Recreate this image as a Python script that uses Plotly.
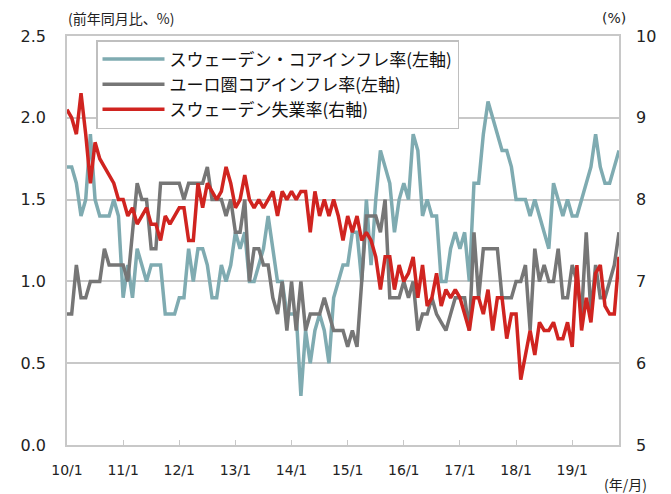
import plotly.graph_objects as go

# Monthly data, 2010/1 - 2019/11
tick_labels = ["10/1", "11/1", "12/1", "13/1", "14/1", "15/1", "16/1", "17/1", "18/1", "19/1"]

sweden_core = [
    1.7, 1.7, 1.6, 1.4, 1.5, 1.9, 1.5, 1.4, 1.4, 1.4, 1.5, 1.4,   # 2010
    0.9, 1.1, 0.9, 1.2, 1.1, 1.0, 1.1, 1.1, 1.1, 0.8, 0.8, 0.8,   # 2011
    0.9, 0.9, 1.2, 1.0, 1.2, 1.2, 1.1, 0.9, 0.9, 1.1, 1.0, 1.1,   # 2012
    1.3, 1.2, 1.3, 1.0, 1.0, 1.1, 1.2, 1.4, 1.2, 1.0, 1.0, 0.8,   # 2013
    0.8, 0.8, 0.3, 0.7, 0.5, 0.7, 0.8, 0.7, 0.5, 0.9, 1.0, 1.1,   # 2014
    1.1, 1.3, 1.3, 1.0, 1.5, 1.1, 1.5, 1.8, 1.7, 1.6, 1.3, 1.5,   # 2015
    1.6, 1.5, 1.9, 1.8, 1.4, 1.5, 1.4, 1.4, 1.0, 1.0, 1.2, 1.3,   # 2016
    1.2, 1.3, 1.0, 1.6, 1.6, 1.9, 2.1, 2.0, 1.9, 1.8, 1.8, 1.7,   # 2017
    1.5, 1.5, 1.5, 1.4, 1.5, 1.4, 1.3, 1.2, 1.6, 1.5, 1.4, 1.5,   # 2018
    1.4, 1.4, 1.5, 1.6, 1.7, 1.9, 1.7, 1.6, 1.6, 1.7, 1.8,        # 2019
]

euro_core = [
    0.8, 0.8, 1.1, 0.9, 0.9, 1.0, 1.0, 1.0, 1.2, 1.1, 1.1, 1.1,   # 2010
    1.1, 1.0, 1.3, 1.6, 1.5, 1.5, 1.2, 1.2, 1.6, 1.6, 1.6, 1.6,   # 2011
    1.6, 1.5, 1.6, 1.6, 1.6, 1.6, 1.7, 1.5, 1.5, 1.5, 1.4, 1.5,   # 2012
    1.3, 1.3, 1.5, 1.0, 1.2, 1.2, 1.1, 1.1, 0.9, 0.8, 1.0, 0.7,   # 2013
    1.0, 0.7, 1.0, 0.7, 0.8, 0.8, 0.8, 0.9, 0.8, 0.7, 0.7, 0.7,   # 2014
    0.6, 0.7, 0.6, 1.0, 1.4, 1.4, 1.4, 1.3, 1.5, 0.9, 0.9, 0.9,   # 2015
    1.0, 0.9, 1.0, 0.7, 0.8, 0.8, 0.9, 0.8, 0.75, 0.7, 0.8, 0.9,  # 2016
    0.9, 0.9, 0.7, 1.3, 0.9, 1.2, 1.2, 1.2, 1.2, 0.9, 0.9, 0.9,   # 2017
    1.0, 1.0, 1.1, 0.7, 1.2, 1.0, 1.1, 1.0, 1.0, 1.2, 0.9, 0.9,   # 2018
    1.1, 1.0, 0.8, 1.3, 0.8, 1.1, 0.9, 0.9, 1.0, 1.1, 1.3,        # 2019
]

sweden_unemp = [
    9.1, 9.0, 8.8, 9.3, 8.8, 8.2, 8.7, 8.5, 8.4, 8.3, 8.2, 8.0,   # 2010
    8.0, 7.8, 7.9, 7.7, 7.8, 7.9, 7.7, 7.7, 7.5, 7.8, 7.7, 7.8,   # 2011
    7.9, 7.9, 7.5, 7.5, 8.2, 7.9, 8.2, 8.1, 8.0, 8.1, 8.4, 8.2,   # 2012
    7.9, 8.0, 8.3, 8.0, 7.9, 8.0, 7.9, 8.0, 8.1, 7.8, 8.1, 8.0,   # 2013
    8.1, 8.0, 8.1, 8.1, 7.6, 8.1, 7.8, 8.0, 7.8, 8.0, 7.8, 7.5,   # 2014
    7.8, 7.6, 7.8, 7.5, 7.6, 7.5, 7.3, 6.9, 7.3, 7.3, 6.9, 7.2,   # 2015
    7.0, 7.1, 7.3, 6.8, 7.2, 6.7, 6.8, 7.1, 6.7, 6.9, 6.8, 6.9,   # 2016
    6.8, 6.6, 6.4, 6.8, 6.8, 6.6, 6.9, 6.4, 6.8, 6.8, 6.3, 6.6,   # 2017
    6.6, 5.8, 6.1, 6.4, 6.1, 6.5, 6.4, 6.4, 6.5, 6.3, 6.3, 6.5,   # 2018
    6.2, 7.2, 6.4, 6.8, 6.5, 7.1, 7.2, 6.7, 6.6, 6.6, 7.3,        # 2019
]

names = ["スウェーデン・コアインフレ率(左軸)", "ユーロ圏コアインフレ率(左軸)", "スウェーデン失業率(右軸)"]
colors = ["#7FABB1", "#767676", "#D02420"]

n = len(sweden_core)
x = list(range(n))
tickvals = [12 * k for k in range(len(tick_labels))]

FONT = "DejaVu Sans, Noto Sans CJK JP, sans-serif"
JFONT = "Noto Sans CJK JP, sans-serif"
GRID = "#C8C8C8"

fig = go.Figure()
fig.add_trace(go.Scatter(x=x, y=sweden_core, name=names[0], mode="lines",
                         line=dict(color=colors[0], width=3.5), yaxis="y"))
fig.add_trace(go.Scatter(x=x, y=euro_core, name=names[1], mode="lines",
                         line=dict(color=colors[1], width=3.5), yaxis="y"))
fig.add_trace(go.Scatter(x=x, y=sweden_unemp, name=names[2], mode="lines",
                         line=dict(color=colors[2], width=3.5), yaxis="y2"))

W, H = 671, 494
L, R, T, B = 67, 52, 36, 49
pw, ph = W - L - R, H - T - B

def px_x(v):
    return (v - L) / pw

def px_y(v):
    return (H - B - v) / ph

fig.update_layout(
    width=W, height=H,
    margin=dict(l=L, r=R, t=T, b=B, autoexpand=False),
    paper_bgcolor="white", plot_bgcolor="white",
    font=dict(family=FONT, size=15, color="#222222"),
    showlegend=True,
    legend=dict(
        x=px_x(96), y=px_y(40), xanchor="left", yanchor="top",
        bgcolor="white", bordercolor="#BFBFBF", borderwidth=1.5,
        font=dict(family=JFONT, size=17, color="#111111"),
        itemwidth=62, tracegroupgap=0,
    ),
    xaxis=dict(
        range=[0, n - 1], tickmode="array", tickvals=tickvals, ticktext=tick_labels,
        showgrid=False, zeroline=False,
        showline=True, linecolor=GRID, linewidth=1.5, mirror=True,
        ticks="inside", ticklen=5, tickcolor=GRID,
        ticklabelstandoff=11,
        tickfont=dict(family=FONT, size=14),
    ),
    yaxis=dict(
        range=[0, 2.5], dtick=0.5, tick0=0, tickformat=".1f",
        showgrid=True, gridcolor=GRID, gridwidth=1.5, zeroline=False,
        showline=True, linecolor=GRID, linewidth=1.5, mirror=True,
        ticks="", ticklabelstandoff=16,
        tickfont=dict(family=FONT, size=16),
    ),
    yaxis2=dict(
        range=[5, 10], dtick=1, tick0=5, overlaying="y", side="right",
        showgrid=False, zeroline=False, ticks="", ticklabelstandoff=16,
        tickfont=dict(family=FONT, size=16),
    ),
    annotations=[
        dict(text="(前年同月比、%)", x=px_x(66), y=px_y(18), xref="paper", yref="paper",
             showarrow=False, xanchor="left", yanchor="middle",
             font=dict(family=JFONT, size=14)),
        dict(text="(%)", x=px_x(600), y=px_y(18), xref="paper", yref="paper",
             showarrow=False, xanchor="left", yanchor="middle",
             font=dict(family=FONT, size=14)),
        dict(text="(年/月)", x=px_x(602), y=px_y(484), xref="paper", yref="paper",
             showarrow=False, xanchor="left", yanchor="middle",
             font=dict(family=JFONT, size=14)),
    ],
)

fig.write_html(
    "out.html",
    config={"displayModeBar": False},
    post_script="document.body.style.margin='0';document.body.style.padding='0';",
)
